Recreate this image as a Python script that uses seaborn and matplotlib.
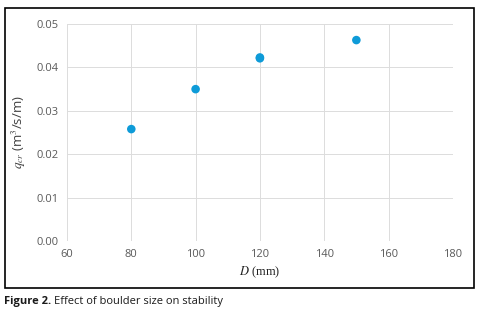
import matplotlib.pyplot as plt
import pandas as pd
import seaborn as sns
from matplotlib.patches import Rectangle

# boulder size D (mm) vs critical unit discharge q_cr (m3/s/m)
boulderSize = [80, 100, 120, 120, 150]
qCritical = [0.0258, 0.0350, 0.0421, 0.0423, 0.0463]

xTicks = [60, 80, 100, 120, 140, 160, 180]
yTicks = [0.00, 0.01, 0.02, 0.03, 0.04, 0.05]

df = pd.DataFrame({"D": boulderSize, "qcr": qCritical})

sns.set_style("whitegrid")
plt.rcParams["font.family"] = ["Open Sans", "DejaVu Sans"]
plt.rcParams["mathtext.fontset"] = "stix"

fig = plt.figure(figsize=(4.89, 3.16), dpi=100)
ax = fig.add_axes([0.137, 0.237, 0.789, 0.687])

sns.scatterplot(
    data=df,
    x="D",
    y="qcr",
    ax=ax,
    color="#0E9BD8",
    s=38,
    edgecolor="none",
    zorder=3,
)

ax.set_xlim(60, 180)
ax.set_ylim(0, 0.05)
ax.set_xticks(xTicks)
ax.set_yticks(yTicks)
ax.set_yticklabels([f"{v:.2f}" for v in yTicks])
ax.grid(color="#DCDCDC", linewidth=0.7)
for spine in ax.spines.values():
    spine.set_visible(False)
ax.tick_params(axis="both", labelsize=8, colors="#595959", length=0, pad=6)

ax.set_xlabel(
    r"$D$ (mm)", fontsize=9, family="Liberation Serif", color="#222222", labelpad=3
)
ax.set_ylabel(r"$q_{cr}$ (m$^3$/s/m)", fontsize=9.5, color="#404040", labelpad=6)

# black frame around the chart
fig.patches.append(
    Rectangle(
        (0.0102, 0.0886),
        0.959,
        0.886,
        transform=fig.transFigure,
        fill=False,
        edgecolor="black",
        linewidth=1.2,
    )
)

# caption
capBold = fig.text(0.008, 0.045, "Figure 2.", fontsize=8, weight="bold", color="#1a1a1a", va="center")
fig.canvas.draw()
bb = capBold.get_window_extent()
fig.text(
    bb.x1 / fig.bbox.width + 0.006,
    0.045,
    "Effect of boulder size on stability",
    fontsize=8,
    color="#1a1a1a",
    va="center",
)

plt.savefig("out.png", dpi=100)
